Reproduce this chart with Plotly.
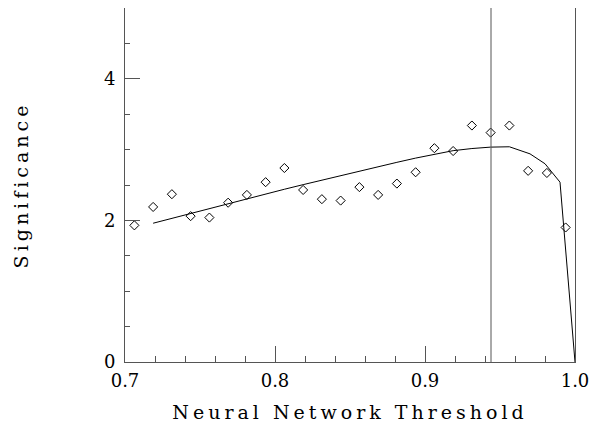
import plotly.graph_objects as go

# measured significance per threshold bin
thr_points = [0.70625, 0.71875, 0.73125, 0.74375, 0.75625, 0.76875, 0.78125, 0.79375,
              0.80625, 0.81875, 0.83125, 0.84375, 0.85625, 0.86875, 0.88125, 0.89375,
              0.90625, 0.91875, 0.93125, 0.94375, 0.95625, 0.96875, 0.98125, 0.99375]
sig_points = [1.93, 2.19, 2.37, 2.06, 2.04, 2.25, 2.36, 2.54,
              2.74, 2.43, 2.30, 2.28, 2.47, 2.36, 2.52, 2.68,
              3.02, 2.98, 3.34, 3.24, 3.34, 2.70, 2.67, 1.90]

# expected significance curve
thr_curve = [0.71875, 0.73125, 0.74375, 0.75625, 0.76875, 0.78125, 0.79375, 0.80625,
             0.81875, 0.83125, 0.84375, 0.85625, 0.86875, 0.88125, 0.89375, 0.90625,
             0.91875, 0.93125, 0.94375, 0.95625, 0.97, 0.98, 0.99, 1.0]
sig_curve = [1.96, 2.03, 2.095, 2.165, 2.235, 2.305, 2.37, 2.44,
             2.505, 2.57, 2.635, 2.70, 2.76, 2.82, 2.88, 2.935,
             2.985, 3.015, 3.035, 3.04, 2.94, 2.80, 2.54, 0.0]

best_cut = 0.944

axis_color = '#555555'
font_family = 'DejaVu Serif'

fig = go.Figure()

fig.add_trace(go.Scatter(
    x=thr_curve,
    y=sig_curve,
    mode='lines',
    line=dict(color='black', width=1),
    hoverinfo='skip'
))

fig.add_trace(go.Scatter(
    x=thr_points,
    y=sig_points,
    mode='markers',
    marker=dict(symbol='diamond-open', size=7, color='black', line=dict(width=1)),
    hovertemplate='%{x:.3f}<br>%{y:.2f}'
))

fig.add_vline(x=best_cut, line=dict(color=axis_color, width=1))

# the page body has an 8px margin, so the figure is sized to fit inside it
fig.update_layout(
    width=589,
    height=415,
    showlegend=False,
    plot_bgcolor='white',
    paper_bgcolor='white',
    margin=dict(l=117, r=22, t=0, b=61),
    font=dict(family=font_family, color='black', size=18),
    xaxis=dict(
        range=[0.7, 1.0],
        tickvals=[0.7, 0.8, 0.9, 1.0],
        ticktext=['0.7', '0.8', '0.9', '1.0'],
        ticks='inside',
        ticklen=16,
        tickcolor=axis_color,
        ticklabelstandoff=2,
        minor=dict(dtick=0.02, ticks='inside', ticklen=6, tickcolor=axis_color),
        showline=True,
        linecolor=axis_color,
        linewidth=1,
        mirror=True,
        showgrid=False,
        zeroline=False,
        title=dict(text='Neural Network Threshold', font=dict(size=19), standoff=18)
    ),
    yaxis=dict(
        range=[0, 5],
        tickvals=[0, 2, 4],
        ticks='inside',
        ticklen=15,
        tickcolor=axis_color,
        ticklabelstandoff=5,
        minor=dict(dtick=0.5, ticks='inside', ticklen=5, tickcolor=axis_color),
        showline=True,
        linecolor=axis_color,
        linewidth=1,
        mirror=True,
        showgrid=False,
        zeroline=False,
        title=dict(text='Significance', font=dict(size=19), standoff=70)
    )
)

# spread the axis titles out like the original lettering
spacing_js = "document.querySelectorAll('.xtitle, .ytitle').forEach(function(t){t.style.letterSpacing='4px';});"

fig.write_html("out.html", post_script=spacing_js)
